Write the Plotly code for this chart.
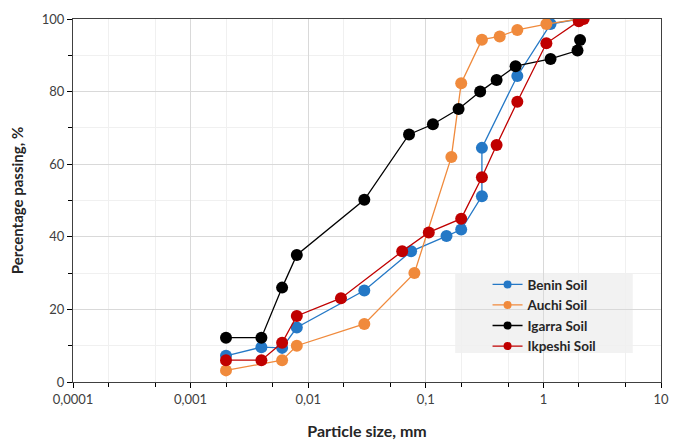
import plotly.graph_objects as go

benin_size = [0.002, 0.004, 0.006, 0.008, 0.03, 0.075, 0.15, 0.2, 0.3, 0.3, 0.6, 1.15, 2.0]
benin_pass = [7.2, 9.6, 9.4, 15, 25.2, 36, 40.2, 42, 51.2, 64.5, 84.3, 98.6, 100]

auchi_size = [0.002, 0.006, 0.008, 0.03, 0.08, 0.165, 0.2, 0.3, 0.425, 0.6, 1.06, 2.0]
auchi_pass = [3.2, 6, 10, 16, 30, 62, 82.3, 94.3, 95.2, 97, 98.6, 100]

igarra_size = [0.002, 0.004, 0.006, 0.008, 0.03, 0.072, 0.115, 0.19, 0.29, 0.4, 0.58, 1.15, 1.95, 2.05]
igarra_pass = [12.2, 12.2, 26, 35, 50.2, 68.2, 71, 75.2, 80, 83.2, 87, 89, 91.3, 94.2]

ikpeshi_size = [0.002, 0.004, 0.006, 0.008, 0.019, 0.063, 0.106, 0.2, 0.3, 0.4, 0.6, 1.06, 2.0, 2.2]
ikpeshi_pass = [6, 6, 10.8, 18.2, 23.1, 36, 41.2, 45, 56.4, 65.3, 77.2, 93.3, 99.4, 100]

series = [
    ("Benin Soil", benin_size, benin_pass, "#2478c6"),
    ("Auchi Soil", auchi_size, auchi_pass, "#f08a3c"),
    ("Igarra Soil", igarra_size, igarra_pass, "#000000"),
    ("Ikpeshi Soil", ikpeshi_size, ikpeshi_pass, "#c00000"),
]

x_tickvals = [0.0001, 0.001, 0.01, 0.1, 1, 10]
x_ticktext = ["0,0001", "0,001", "0,01", "0,1", "1", "10"]

fig = go.Figure()
for name, xs, ys, col in series:
    fig.add_trace(go.Scatter(
        x=xs, y=ys, name=name, mode="lines+markers", showlegend=False,
        line=dict(color=col, width=1.3),
        marker=dict(color=col, size=12),
    ))
# legend entries with smaller symbols, as in the original
for name, xs, ys, col in series:
    fig.add_trace(go.Scatter(
        x=[None], y=[None], name=name, mode="lines+markers",
        line=dict(color=col, width=1.3),
        marker=dict(color=col, size=8),
    ))

FONT = "Lato, 'Open Sans', sans-serif"
fig.add_shape(type="rect", xref="paper", yref="paper",
              x0=0.65, x1=0.952, y0=0.08, y1=0.30,
              fillcolor="#f2f2f2", line=dict(width=0), layer="below")

fig.update_layout(
    width=683, height=441,
    margin=dict(l=73, r=22, t=19, b=59, autoexpand=False),
    paper_bgcolor="white", plot_bgcolor="white",
    font=dict(family=FONT, size=13, color="#262626"),
    showlegend=True,
    legend=dict(
        x=0.705, y=0.311, xanchor="left", yanchor="top",
        bgcolor="rgba(0,0,0,0)", borderwidth=0,
        font=dict(family=FONT, size=13.5, color="#262626", weight="bold"),
        tracegroupgap=0,
    ),
    xaxis=dict(
        type="log", range=[-4, 1], automargin=False,
        tickvals=x_tickvals, ticktext=x_ticktext,
        ticks="outside", ticklen=5, tickcolor="black",
        showline=True, linecolor="#404040", linewidth=1.3, mirror=True,
        showgrid=True, gridcolor="#d9d9d9", gridwidth=1,
        minor=dict(ticks="outside", ticklen=4, tickcolor="black",
                   showgrid=True, gridcolor="#f0f0f0", gridwidth=1),
        title=dict(text="Particle size, mm", font=dict(size=16, weight="bold", color="#262626"), standoff=20),
        tickfont=dict(size=13, color="#404040"),
        zeroline=False,
    ),
    yaxis=dict(
        range=[0, 100], dtick=20, automargin=False,
        ticks="outside", ticklen=5, tickcolor="black",
        showline=True, linecolor="#404040", linewidth=1.3, mirror=True,
        showgrid=True, gridcolor="#d9d9d9", gridwidth=1,
        minor=dict(dtick=10, ticks="outside", ticklen=4, tickcolor="black",
                   showgrid=True, gridcolor="#f0f0f0", gridwidth=1),
        title=dict(text="Percentage passing, %", font=dict(size=15, weight="bold", color="#262626"), standoff=14),
        tickfont=dict(size=13, color="#404040"),
        zeroline=False,
    ),
)

fig.write_html("out.html")
